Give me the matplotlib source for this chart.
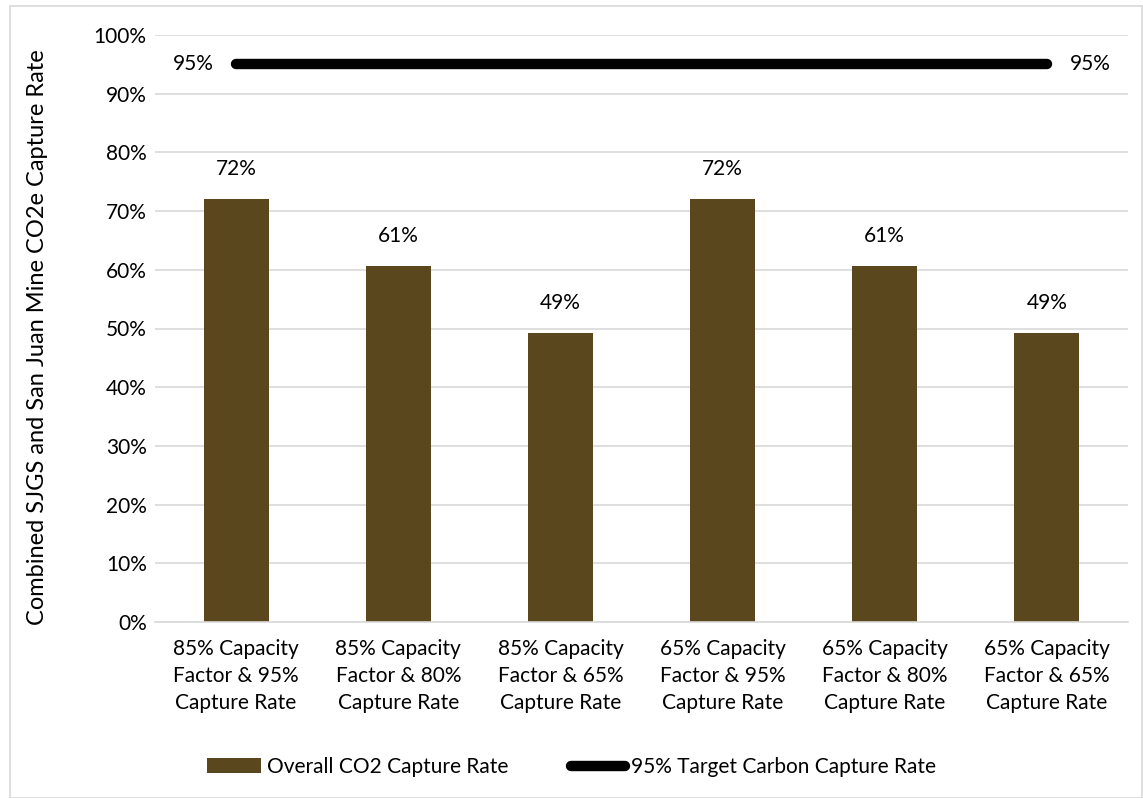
import matplotlib
matplotlib.use("Agg")
from matplotlib import pyplot as plt
from matplotlib.patches import Rectangle

plt.rcParams['font.family'] = ['Lato', 'DejaVu Sans']

categories = ["85% Capacity\nFactor & 95%\nCapture Rate",
              "85% Capacity\nFactor & 80%\nCapture Rate",
              "85% Capacity\nFactor & 65%\nCapture Rate",
              "65% Capacity\nFactor & 95%\nCapture Rate",
              "65% Capacity\nFactor & 80%\nCapture Rate",
              "65% Capacity\nFactor & 65%\nCapture Rate"]
capture = [72.1, 60.7, 49.3, 72.1, 60.7, 49.3]
capture_labels = ["72%", "61%", "49%", "72%", "61%", "49%"]
target = [95, 95, 95, 95, 95, 95]

bar_color = "#5B471E"
fs = 15

fig = plt.figure(figsize=(11.43, 7.98), dpi=100)
ax = fig.add_axes([155/1143, 1 - 622/798, 973/1143, 587/798])

x = list(range(len(categories)))
bars = ax.bar(x, capture, width=0.4, color=bar_color, zorder=2, label="Overall CO2 Capture Rate")
line, = ax.plot(x, target, color="black", linewidth=7.5, solid_capstyle="round", zorder=3,
                label="95% Target Carbon Capture Rate")

for xi, v, lab in zip(x, capture, capture_labels):
    ax.text(xi, v + 3.3, lab, ha="center", va="bottom", fontsize=fs)
ax.text(x[0] - 0.14, target[0], "95%", ha="right", va="center", fontsize=fs)
ax.text(x[-1] + 0.14, target[-1], "95%", ha="left", va="center", fontsize=fs)

ax.set_xlim(-0.5, 5.5)
ax.set_ylim(0, 100)
ax.set_yticks(range(0, 101, 10))
ax.set_yticklabels([f"{t}%" for t in range(0, 101, 10)], fontsize=fs)
ax.set_xticks(x)
ax.set_xticklabels(categories, fontsize=fs, linespacing=1.45)
ax.tick_params(axis="x", length=0, pad=12)
ax.tick_params(axis="y", length=0, pad=6)
ax.grid(axis="y", color="#D9D9D9", linewidth=1.2, zorder=0)
for s in ["top", "right", "left"]:
    ax.spines[s].set_visible(False)
ax.spines["bottom"].set_color("#D9D9D9")
ax.spines["bottom"].set_linewidth(1.2)
ax.set_ylabel("Combined SJGS and San Juan Mine CO2e Capture Rate", fontsize=17)
ax.yaxis.set_label_coords(-0.11, 0.485)

fig.legend(handles=[bars, line], loc="center", bbox_to_anchor=(0.5, 1 - 767/798), ncol=2,
           frameon=False, fontsize=fs, handlelength=2.6, handletextpad=0.3, columnspacing=3.0)

fig.patches.append(Rectangle((10/1143, 0), 1 - 10/1143 - 0.001, 1 - 6/798,
                             transform=fig.transFigure, fill=False,
                             edgecolor="#D9D9D9", linewidth=1.2))

fig.savefig("out.png", dpi=100)
